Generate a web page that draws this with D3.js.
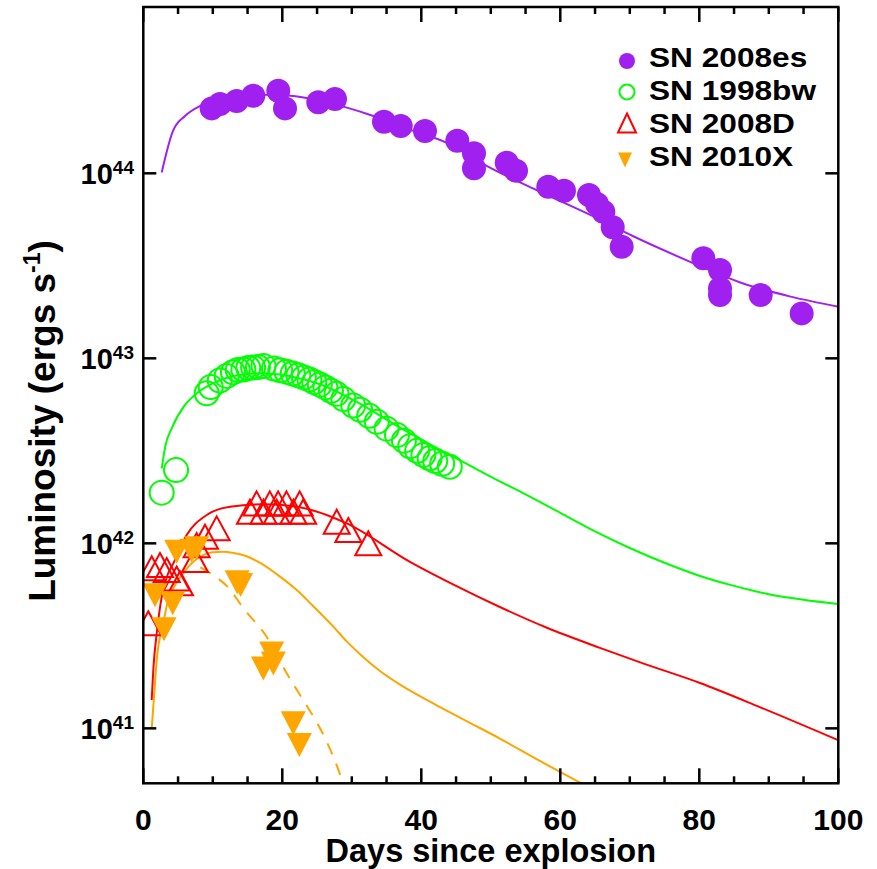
<!DOCTYPE html>
<html>
<head>
<meta charset="utf-8">
<script src="https://cdn.jsdelivr.net/npm/d3@7"></script>
<style>
  html, body { margin: 0; padding: 0; background: #fff; }
  svg { display: block; }
  text { font-family: "Liberation Sans", Arial, Helvetica, sans-serif; font-weight: bold; fill: #000; }
</style>
</head>
<body>
<svg id="chart" width="877" height="869"></svg>
<script>
// ---- Observed light curves: days since explosion, log10 luminosity (erg/s) ----
const sn2008esDays = [9.84, 11.04, 13.44, 15.83, 19.42, 20.39, 25.18, 27.58, 34.63, 37.04, 40.53, 45.18,
  47.58, 47.58, 52.29, 53.63, 58.27, 60.53, 64.13, 65.28, 66.19, 67.54, 68.83, 80.58, 82.98, 82.98,
  82.98, 88.83, 94.73];
const sn2008esLogL = [44.351, 44.375, 44.391, 44.419, 44.446, 44.351, 44.384, 44.402, 44.279, 44.256,
  44.229, 44.176, 44.108, 44.027, 44.057, 44.014, 43.928, 43.906, 43.883, 43.834, 43.792, 43.708,
  43.603, 43.541, 43.477, 43.378, 43.342, 43.342, 43.243];

const sn1998bwDays = [2.65, 4.71, 9.12, 9.7, 11.0, 12.0, 12.9, 13.6, 14.4, 15.1, 15.8, 16.5, 17.3, 18.8,
  19.7, 20.6, 21.5, 22.3, 23.1, 23.9, 24.6, 25.4, 26.2, 27.0, 27.8, 28.8, 30.2, 31.2, 32.5, 33.6, 35.0,
  36.5, 37.5, 38.4, 39.4, 40.3, 41.2, 42.0, 43.0, 44.1];
const sn1998bwLogL = [42.274, 42.396, 42.811, 42.845, 42.88, 42.905, 42.925, 42.937, 42.94, 42.948,
  42.951, 42.953, 42.958, 42.945, 42.935, 42.928, 42.918, 42.908, 42.897, 42.886, 42.872, 42.858,
  42.843, 42.825, 42.808, 42.78, 42.745, 42.722, 42.69, 42.657, 42.62, 42.585, 42.555, 42.525, 42.5,
  42.478, 42.46, 42.445, 42.43, 42.414];

const sn2008dDays = [0.72, 1.21, 2.4, 3.37, 4.8, 5.28, 7.44, 7.68, 8.88, 10.56, 15.35, 16.3, 17.3, 18.2,
  19.2, 19.4, 20.6, 21.6, 22.5, 23.0, 27.83, 29.5, 32.37];
const sn2008dLogL = [41.568, 41.865, 41.883, 41.856, 41.81, 41.784, 41.91, 41.99, 42.036, 42.081,
  42.171, 42.216, 42.171, 42.216, 42.171, 42.216, 42.216, 42.171, 42.216, 42.171, 42.117, 42.072, 42.0];

const sn2010xDays = [1.68, 2.98, 4.23, 4.8, 6.96, 7.68, 13.5, 14.0, 17.27, 18.47, 18.71, 21.58, 22.45];
const sn2010xLogL = [41.72, 41.535, 41.676, 41.955, 41.96, 41.973, 41.79, 41.775, 41.324, 41.405,
  41.351, 41.027, 40.91];

// ---- Model curves ----
const model2008esDays = [2.65, 4.23, 6.0, 8.16, 10, 12, 15, 18, 21.6, 25, 29.3, 33.1, 38, 43.65, 49.4,
  57.1, 64.3, 70.5, 79.1, 85.9, 93.0, 100];
const model2008esLogL = [44.005, 44.225, 44.31, 44.364, 44.39, 44.405, 44.42, 44.425, 44.418, 44.395,
  44.355, 44.31, 44.24, 44.165, 44.04, 43.90, 43.775, 43.66, 43.515, 43.41, 43.335, 43.279];

const model1998bwDays = [2.65, 3.2, 4.09, 6.0, 7.68, 10, 13, 17, 21, 25, 30, 36.5, 42, 47, 51.3, 55, 60,
  65, 70, 75, 80, 85, 90, 95, 100];
const model1998bwLogL = [42.405, 42.53, 42.622, 42.748, 42.811, 42.865, 42.905, 42.92, 42.905, 42.865,
  42.78, 42.635, 42.52, 42.42, 42.335, 42.265, 42.165, 42.065, 41.975, 41.895, 41.825, 41.77, 41.725,
  41.695, 41.672];

const model2008dDays = [1.21, 1.5, 1.93, 2.65, 3.5, 4.32, 6.24, 9.12, 12.47, 17.27, 22.07, 29.27, 38.37,
  45, 51.3, 58, 65.7, 72, 80.1, 88.7, 100];
const model2008dLogL = [41.153, 41.35, 41.514, 41.711, 41.83, 41.892, 42.045, 42.153, 42.198, 42.211,
  42.198, 42.108, 41.9, 41.77, 41.656, 41.545, 41.435, 41.35, 41.245, 41.115, 40.936];

const model2010xDays = [1.21, 1.6, 1.93, 2.88, 3.6, 4.5, 5.76, 7.68, 10, 11.5, 13, 14.88, 17, 19.67, 22,
  24.46, 27.34, 29.27, 31.5, 34.06, 37, 40, 42.7, 47, 51.3, 57, 62.9];
const model2010xLogL = [41.0, 41.2, 41.37, 41.568, 41.70, 41.77, 41.84, 41.915, 41.952, 41.955, 41.948,
  41.93, 41.89, 41.82, 41.75, 41.66, 41.55, 41.47, 41.39, 41.31, 41.235, 41.17, 41.115, 41.03, 40.945,
  40.825, 40.705];

// Steeper alternative fit for SN 2010X (dashed)
const fast2010xDays = [8.2, 10, 12, 14.6, 17.75, 20.6, 23.3, 25, 27.3, 28.8, 29.5];
const fast2010xLogL = [41.87, 41.83, 41.77, 41.64, 41.495, 41.30, 41.135, 41.03, 40.85, 40.70, 40.62];

// ---- Axes ----
const xTicks = [0, 20, 40, 60, 80, 100];
const xMinorStep = 5;
const yTickExponents = [41, 42, 43, 44];
const legendLabels = ["SN 2008es", "SN 1998bw", "SN 2008D", "SN 2010X"];
const seriesColors = ["#a020f0", "#00ff00", "#ff0000", "#ffa500"];

const svg = d3.select("#chart");
const plotLeft = 143.3, plotRight = 838.3, plotTop = 7, plotBottom = 783.3;

const x = d3.scaleLinear().domain([0, 100]).range([plotLeft, plotRight]);
const y = d3.scaleLog().domain([Math.pow(10, 40.703), Math.pow(10, 44.899)]).range([plotBottom, plotTop]);

svg.append("defs").append("clipPath").attr("id", "plotClip")
  .append("rect").attr("x", plotLeft).attr("y", plotTop)
  .attr("width", plotRight - plotLeft).attr("height", plotBottom - plotTop);

const plot = svg.append("g").attr("clip-path", "url(#plotClip)");

function toPoints(days, logL) { return days.map((d, i) => [d, Math.pow(10, logL[i])]); }

const line = d3.line().x(d => x(d[0])).y(d => y(d[1])).curve(d3.curveMonotoneX);

// Model curves
function drawModel(days, logL, color, dash) {
  plot.append("path")
    .datum(toPoints(days, logL))
    .attr("d", line)
    .attr("fill", "none")
    .attr("stroke", color)
    .attr("stroke-width", 2)
    .attr("stroke-dasharray", dash || null);
}
drawModel(model2008esDays, model2008esLogL, seriesColors[0]);
drawModel(model1998bwDays, model1998bwLogL, seriesColors[1]);
drawModel(model2008dDays, model2008dLogL, seriesColors[2]);
drawModel(model2010xDays, model2010xLogL, seriesColors[3]);
drawModel(fast2010xDays, fast2010xLogL, seriesColors[3], "12,10");

// Symbol shapes
const upTri = (w, h) => `M0,${-h / 2}L${w / 2},${h / 2}L${-w / 2},${h / 2}Z`;
const downTri = (w, h) => `M${-w / 2},${-h / 2}L${w / 2},${-h / 2}L0,${h / 2}Z`;

// SN 2008es: filled circles
plot.append("g").selectAll("circle")
  .data(toPoints(sn2008esDays, sn2008esLogL)).join("circle")
  .attr("cx", d => x(d[0])).attr("cy", d => y(d[1])).attr("r", 12)
  .attr("fill", seriesColors[0]);

// SN 1998bw: open circles
plot.append("g").selectAll("circle")
  .data(toPoints(sn1998bwDays, sn1998bwLogL)).join("circle")
  .attr("cx", d => x(d[0])).attr("cy", d => y(d[1])).attr("r", 12)
  .attr("fill", "none").attr("stroke", seriesColors[1]).attr("stroke-width", 2);

// SN 2008D: open triangles
plot.append("g").selectAll("path")
  .data(toPoints(sn2008dDays, sn2008dLogL)).join("path")
  .attr("transform", d => `translate(${x(d[0])},${y(d[1])})`)
  .attr("d", upTri(26, 24))
  .attr("fill", "none").attr("stroke", seriesColors[2]).attr("stroke-width", 2);

// SN 2010X: filled downward triangles
plot.append("g").selectAll("path")
  .data(toPoints(sn2010xDays, sn2010xLogL)).join("path")
  .attr("transform", d => `translate(${x(d[0])},${y(d[1])})`)
  .attr("d", downTri(25, 24))
  .attr("fill", seriesColors[3]);

// ---- Frame and ticks ----
const axisColor = "#000";
const frame = svg.append("g");
frame.append("rect").attr("x", plotLeft).attr("y", plotTop)
  .attr("width", plotRight - plotLeft).attr("height", plotBottom - plotTop)
  .attr("fill", "none").attr("stroke", axisColor).attr("stroke-width", 2.5);

const minorX = d3.range(0, 100 + 0.001, xMinorStep).filter(v => !xTicks.includes(v));
const majorLen = 15, minorLen = 7;
function vTick(v, len) {
  frame.append("line").attr("x1", x(v)).attr("x2", x(v)).attr("y1", plotBottom).attr("y2", plotBottom - len)
    .attr("stroke", axisColor).attr("stroke-width", 2.5);
  frame.append("line").attr("x1", x(v)).attr("x2", x(v)).attr("y1", plotTop).attr("y2", plotTop + len)
    .attr("stroke", axisColor).attr("stroke-width", 2.5);
}
xTicks.forEach(v => vTick(v, majorLen));
minorX.forEach(v => vTick(v, minorLen));
yTickExponents.forEach(e => {
  const yy = y(Math.pow(10, e));
  frame.append("line").attr("x1", plotLeft).attr("x2", plotLeft + 13).attr("y1", yy).attr("y2", yy)
    .attr("stroke", axisColor).attr("stroke-width", 2.5);
  frame.append("line").attr("x1", plotRight).attr("x2", plotRight - 13).attr("y1", yy).attr("y2", yy)
    .attr("stroke", axisColor).attr("stroke-width", 2.5);
});

// Tick labels
const labels = svg.append("g");
xTicks.forEach(v => {
  labels.append("text").attr("x", x(v)).attr("y", 830).attr("text-anchor", "middle")
    .attr("font-size", 30).text(v);
});
yTickExponents.forEach(e => {
  const yy = y(Math.pow(10, e));
  const t = labels.append("text").attr("x", 134).attr("y", yy + 11).attr("text-anchor", "end")
    .attr("font-size", 29);
  t.append("tspan").text("10");
  t.append("tspan").attr("font-size", 19).attr("dy", -10).text(e);
});

// Axis titles
labels.append("text").attr("x", (plotLeft + plotRight) / 2).attr("y", 862).attr("text-anchor", "middle")
  .attr("font-size", 32.5).text("Days since explosion");

const yTitle = labels.append("text").attr("transform", "translate(55,421) rotate(-90)")
  .attr("text-anchor", "middle").attr("font-size", 37);
yTitle.append("tspan").text("Luminosity (ergs s");
yTitle.append("tspan").attr("font-size", 23).attr("dy", -15).text("-1");
yTitle.append("tspan").attr("dy", 15).text(")");

// ---- Legend ----
const legend = svg.append("g");
const legendRows = [67, 100, 133, 166];
legendLabels.forEach((lab, i) => {
  legend.append("text").attr("transform", `translate(649,${legendRows[i]}) scale(1.13,1)`)
    .attr("font-size", 28).text(lab);
});
const lx = 627;
legend.append("circle").attr("cx", lx).attr("cy", legendRows[0] - 6).attr("r", 8).attr("fill", seriesColors[0]);
legend.append("circle").attr("cx", lx).attr("cy", legendRows[1] - 8).attr("r", 7.5)
  .attr("fill", "none").attr("stroke", seriesColors[1]).attr("stroke-width", 2);
legend.append("path").attr("transform", `translate(${lx},${legendRows[2] - 10})`).attr("d", upTri(18, 19))
  .attr("fill", "none").attr("stroke", seriesColors[2]).attr("stroke-width", 2);
legend.append("path").attr("transform", `translate(${lx - 2},${legendRows[3] - 6})`).attr("d", downTri(14, 15))
  .attr("fill", seriesColors[3]);
</script>
</body>
</html>
